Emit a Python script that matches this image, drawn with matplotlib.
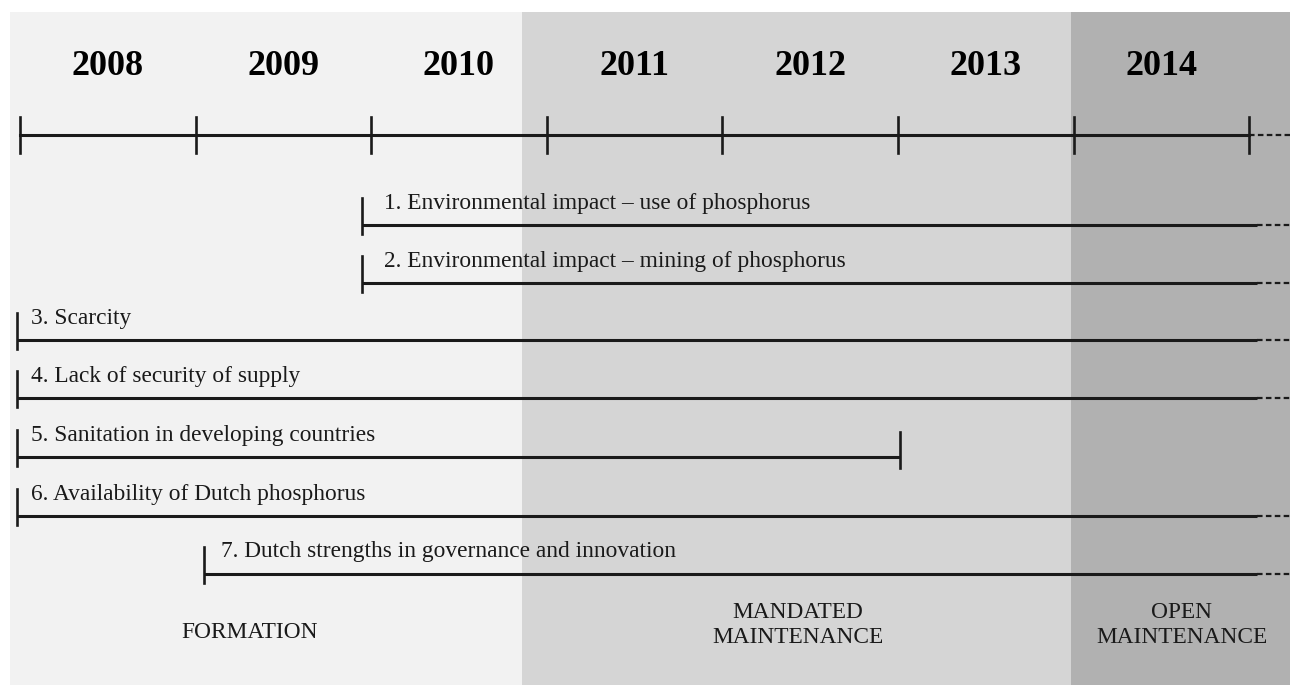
import matplotlib.pyplot as plt
from matplotlib.patches import Rectangle

years = [2008, 2009, 2010, 2011, 2012, 2013, 2014]
issues = [
    '1. Environmental impact \u2013 use of phosphorus',
    '2. Environmental impact \u2013 mining of phosphorus',
    '3. Scarcity',
    '4. Lack of security of supply',
    '5. Sanitation in developing countries',
    '6. Availability of Dutch phosphorus',
    '7. Dutch strengths in governance and innovation',
]
issue_start = [2009.95, 2009.95, 2007.985, 2007.985, 2007.985, 2007.985, 2009.05]
issue_end = [2015.045, 2015.045, 2015.045, 2015.045, 2013.01, 2015.045, 2015.045]
issue_open = [True, True, True, True, False, True, True]  # continues beyond 2014
phases = ['FORMATION', 'MANDATED\nMAINTENANCE', 'OPEN\nMAINTENANCE']
phase_bounds = [2007.943, 2010.86, 2013.985, 2015.23]
phase_colors = ['#f2f2f2', '#d5d5d5', '#b1b1b1']

plt.rcParams['font.family'] = ['Liberation Serif', 'DejaVu Serif']

fig = plt.figure(figsize=(12.93, 6.85), dpi=100)
ax = fig.add_axes([0, 0, 1, 1])
px = 175.6  # pixels per year
ax.set_xlim(2008 - 20 / px, 2008 + 1273 / px)
ax.set_ylim(685, 0)
ax.axis('off')

# phase backgrounds
for i in range(3):
    ax.add_patch(Rectangle((phase_bounds[i], 12), phase_bounds[i + 1] - phase_bounds[i], 700,
                           color=phase_colors[i], lw=0, zorder=0))

lw = 2.2
end_x = phase_bounds[-1]

# timeline
ty = 135
ax.plot([years[0], years[-1] + 1], [ty, ty], color='#1a1a1a', lw=lw, zorder=2)
ax.plot([years[-1] + 1, end_x], [ty, ty], color='#1a1a1a', lw=1.6, ls=(0, (2.5, 1.5)), zorder=2)
for y in years + [years[-1] + 1]:
    ax.plot([y, y], [117, 153], color='#1a1a1a', lw=1.9, zorder=2)
for y in years:
    ax.text(y + 0.5, 66, str(y), ha='center', va='center', fontsize=26, fontweight='bold')

# issues
line_y = [225, 283, 340, 398, 457, 516, 574]
label_off = [22, 22, 14, 14, 14, 14, 17]
for name, s, e, op, ly, off in zip(issues, issue_start, issue_end, issue_open, line_y, label_off):
    ax.plot([s, e], [ly, ly], color='#1a1a1a', lw=lw, zorder=2, solid_capstyle='butt')
    ax.plot([s, s], [ly - 27, ly + 9], color='#1a1a1a', lw=1.9, zorder=2)
    if op:
        ax.plot([e, end_x], [ly, ly], color='#1a1a1a', lw=1.6, ls=(0, (2.5, 1.5)), zorder=2)
    else:
        ax.plot([e, e], [ly - 25, ly + 11], color='#1a1a1a', lw=1.9, zorder=2)
    ax.text(s + off / px, ly - 22, name, ha='left', va='center', fontsize=16.8, color='#1a1a1a')

# phase labels
phase_x = [2008 + 230 / px, 2008 + 778 / px, 2008 + 1162 / px]
phase_y = [633, 625, 625]
for name, x, py in zip(phases, phase_x, phase_y):
    ax.text(x, py, name, ha='center', va='center', fontsize=16.8, color='#1a1a1a',
            linespacing=1.2)

fig.savefig('out.png', dpi=100)
